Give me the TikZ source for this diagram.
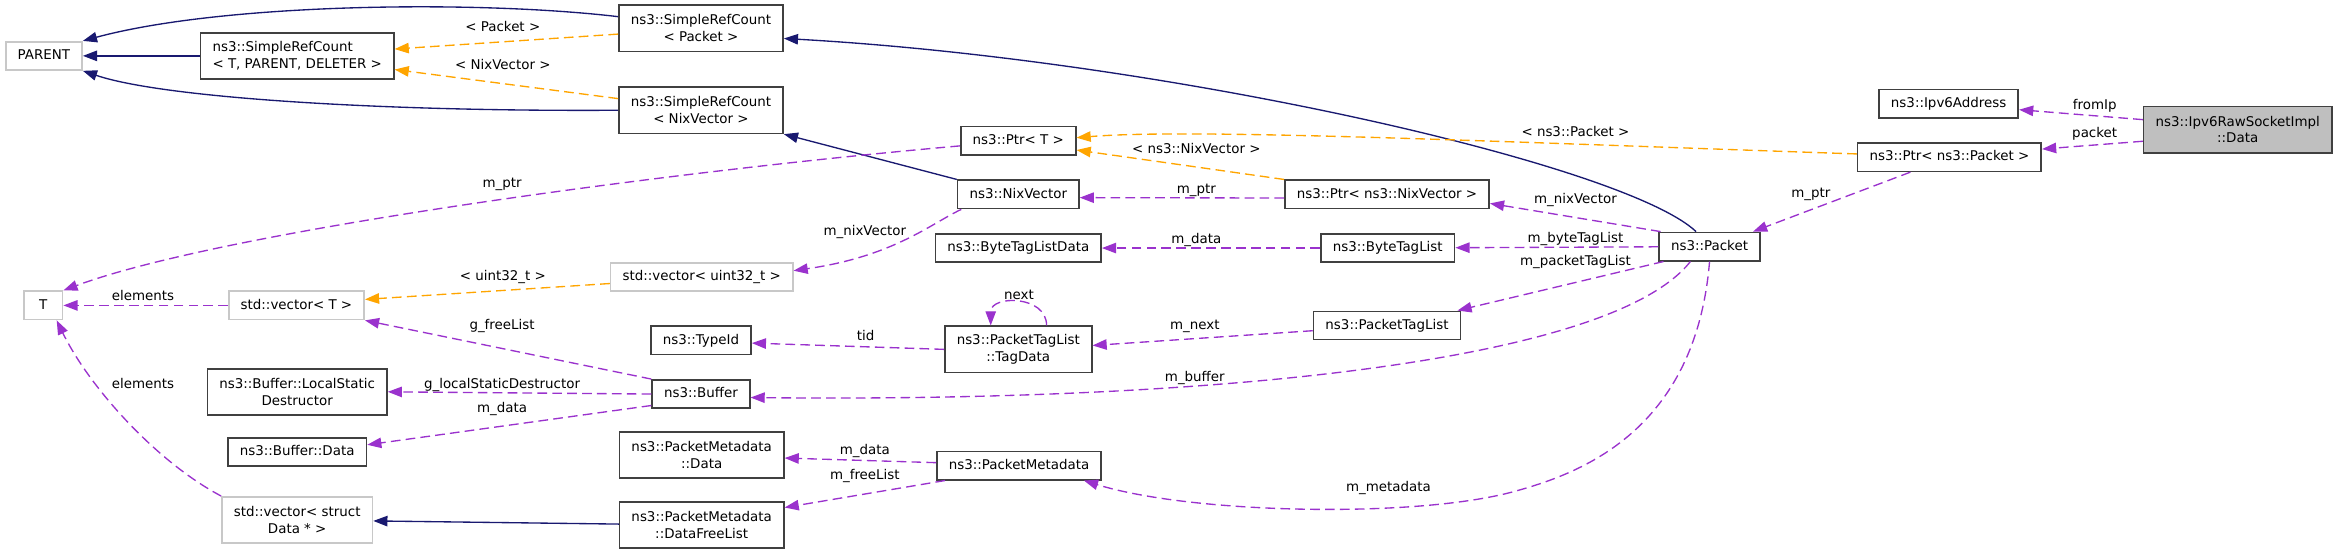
\documentclass[tikz,border=0pt]{standalone}
\usepackage{fontspec}
\setmainfont{DejaVu Sans}
\usetikzlibrary{arrows.meta}
\definecolor{edgeblue}{RGB}{25,25,112}
\definecolor{edgeorange}{RGB}{255,165,0}
\definecolor{edgepurple}{RGB}{154,50,205}
\definecolor{boxline}{RGB}{64,64,64}
\definecolor{undocline}{RGB}{200,200,200}
\definecolor{mainfill}{RGB}{191,191,191}

\begin{document}
\begin{tikzpicture}[x=1pt,y=-1pt,font=\fontsize{9}{11.2}\selectfont,
	cls/.style={draw=boxline,line width=1.1pt,fill=white,inner xsep=8pt,inner ysep=0pt,minimum height=19pt,text height=6.8pt,text depth=1.9pt},
	cls2/.style={draw=boxline,line width=1.1pt,fill=white,inner xsep=8pt,inner ysep=0pt,minimum height=31pt,align=center},
	ext/.style={cls,draw=undocline},
	ext2/.style={cls2,draw=undocline},
	tip/.style={-{Triangle[length=9.5pt,width=7pt]}},
	inherit/.style={tip,draw=edgeblue,line width=0.9pt},
	tmpl/.style={tip,draw=edgeorange,line width=0.9pt,dash pattern=on 6.5pt off 3.5pt},
	uses/.style={tip,draw=edgepurple,line width=0.9pt,dash pattern=on 6.5pt off 3.5pt},
	lbl/.style={inner sep=0pt,text height=6.8pt,text depth=0pt}]
			\useasboundingbox (0,0) rectangle (1568,371.2);
			\node[ext] (parent) at (29.5,37.5) {PARENT};
			\node[cls2,align=left] (srcT) at (199.5,37.5) {ns3::SimpleRefCount\\< T, PARENT, DELETER >};
			\node[cls2] (srcPacket) at (470.5,19) {ns3::SimpleRefCount\\< Packet >};
			\node[cls2] (srcNix) at (470.5,74) {ns3::SimpleRefCount\\< NixVector >};
			\node[cls] (ptrT) at (683.5,94.5) {ns3::Ptr< T >};
			\node[cls] (nixVector) at (683.5,130.5) {ns3::NixVector};
			\node[cls] (ptrNix) at (931,130.5) {ns3::Ptr< ns3::NixVector >};
			\node[cls] (byteTagData) at (683.5,166.5) {ns3::ByteTagListData};
			\node[cls] (byteTagList) at (931.5,166.5) {ns3::ByteTagList};
			\node[cls] (packetTagList) at (931,218.5) {ns3::PacketTagList};
			\node[cls2] (tagData) at (683.5,234.5) {ns3::PacketTagList\\::TagData};
			\node[cls] (typeId) at (470.5,228.5) {ns3::TypeId};
			\node[ext] (vecUint) at (471,186) {std::vector< uint32\_t >};
			\node[ext] (vecT) at (199,205) {std::vector< T >};
			\node[ext,minimum width=26pt] (tT) at (29,205) {T};
			\node[cls2] (localDestr) at (199.5,263) {ns3::Buffer::LocalStatic\\Destructor};
			\node[cls] (buffer) at (470.5,264.5) {ns3::Buffer};
			\node[cls] (bufferData) at (199.5,303.5) {ns3::Buffer::Data};
			\node[ext2] (vecData) at (199.5,349) {std::vector< struct\\Data * >};
			\node[cls2] (metaData) at (471,305.5) {ns3::PacketMetadata\\::Data};
			\node[cls2] (metaFree) at (471,352.5) {ns3::PacketMetadata\\::DataFreeList};
			\node[cls] (metadata) at (684,312.5) {ns3::PacketMetadata};
			\node[cls] (packet) at (1147.5,165.5) {ns3::Packet};
			\node[cls] (ptrPacket) at (1308.5,105.5) {ns3::Ptr< ns3::Packet >};
			\node[cls] (ipv6) at (1308,69.5) {ns3::Ipv6Address};
			\node[cls2,fill=mainfill] (rawData) at (1502,87) {ns3::Ipv6RawSocketImpl\\::Data};

			\draw[inherit] (srcPacket.172) .. controls (320,0) and (150,2) .. (parent.north east);
			\draw[inherit] (srcT) -- (parent);
			\draw[inherit] (srcNix.west) .. controls (260,75) and (110,66) .. (parent.south east);
			\draw[inherit] (packet.132) .. controls (1090,110) and (780,40) .. (srcPacket.353);
			\draw[inherit] (nixVector.north west) -- (srcNix.south east);
			\draw[inherit] (metaFree) -- (vecData);

			\draw[tmpl] (srcPacket.184) -- (srcT.4) node[lbl] at (337.5,18) {< Packet >};
			\draw[tmpl] (srcNix.172) -- (srcT.352) node[lbl] at (337.5,43) {< NixVector >};
			\draw[tmpl] (vecUint.184) -- (vecT.5) node[lbl] at (337.5,185) {< uint32\_t >};
			\draw[tmpl] (ptrPacket.178) .. controls (1000,95) and (800,86) .. (ptrT.3) node[lbl] at (1057.5,88.5) {< ns3::Packet >};
			\draw[tmpl] (ptrNix.north west) -- (ptrT.351) node[lbl] at (803,99.5) {< ns3::NixVector >};

			\draw[uses] (rawData.174) -- (ipv6.355) node[lbl] at (1406,70) {fromIp};
			\draw[uses] (rawData.187) -- (ptrPacket.5) node[lbl] at (1406,89) {packet};
			\draw[uses] (ptrPacket.201) -- (packet.19) node[lbl] at (1215.5,129.5) {m\_ptr};
			\draw[uses] (packet.163) -- (ptrNix.355) node[lbl] at (1057.5,133.5) {m\_nixVector};
			\draw[uses] (packet) -- (byteTagList) node[lbl] at (1057.5,159.5) {m\_byteTagList};
			\draw[uses] (packet.198) -- (packetTagList.12) node[lbl] at (1057.5,174.5) {m\_packetTagList};
			\draw[uses] (packet.218) .. controls (1080,245) and (800,270) .. (buffer.356) node[lbl] at (802,252.5) {m\_buffer};
			\draw[uses] (packet.south) .. controls (1138,290) and (1060,318) .. (1016,330) .. controls (950,348) and (800,345) .. (metadata.347) node[lbl] at (932,326.5) {m\_metadata};
			\draw[uses] (ptrNix.182) -- (nixVector.357) node[lbl] at (803,126.5) {m\_ptr};
			\draw[uses] (byteTagList) -- (byteTagData) node[lbl] at (803,160) {m\_data};
			\draw[uses] (packetTagList.184) -- (tagData.3) node[lbl] at (802,217.5) {m\_next};
			\draw[uses] ([xshift=19pt]tagData.north) to[out=90,in=90,looseness=1.4] ([xshift=-18.5pt]tagData.north) node[lbl] at (684,197.5) {next};
			\draw[uses] (tagData.west) -- (typeId.357) node[lbl] at (581,225) {tid};
			\draw[uses] ([xshift=3pt]nixVector.south west) .. controls (625,150) and (600,172) .. (vecUint.4) node[lbl] at (580.5,154.5) {m\_nixVector};
			\draw[uses] (ptrT.185) .. controls (450,115) and (150,155) .. (tT.north east) node[lbl] at (337,122.5) {m\_ptr};
			\draw[uses] (vecT) -- (tT) node[lbl] at (96,198) {elements};
			\draw[uses] (buffer.north west) -- (vecT.south east) node[lbl] at (337,217.5) {g\_freeList};
			\draw[uses] (buffer.west) -- (localDestr.east) node[lbl] at (337,257.5) {g\_localStaticDestructor};
			\draw[uses] (buffer.193) -- (bufferData.6) node[lbl] at (337,273.5) {m\_data};
			\draw[uses] (vecData.north west) .. controls (105,310) and (60,260) .. (tT.312) node[lbl] at (96,257.5) {elements};
			\draw[uses] (metadata.178) -- (metaData.358) node[lbl] at (580.5,302) {m\_data};
			\draw[uses] ([xshift=6pt]metadata.south west) -- (metaFree.12) node[lbl] at (580.5,318.5) {m\_freeList};
\end{tikzpicture}
\end{document}
